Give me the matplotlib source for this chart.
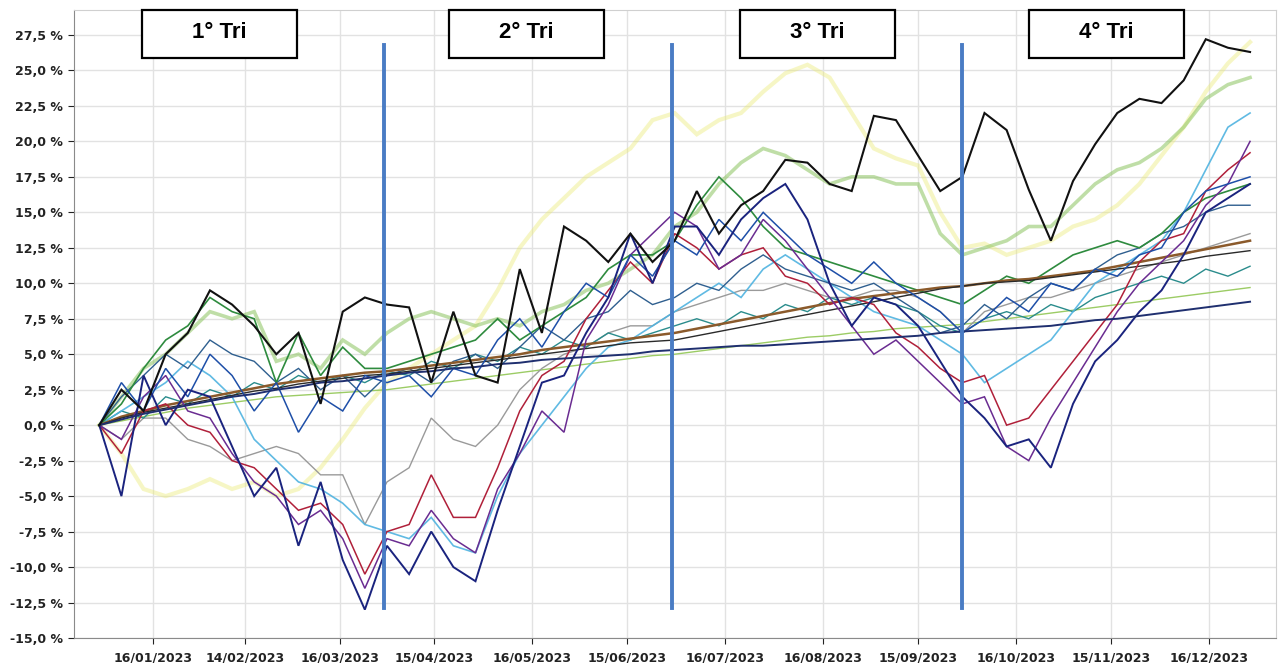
import matplotlib
matplotlib.use("Agg")
from matplotlib import pyplot as plt
from matplotlib.patches import Rectangle
import matplotlib.dates as mdates
import pandas as pd

# weekly closes, performance in % since 30/12/2022
dates = pd.date_range("2022-12-30", periods=53, freq="7D")

black = [0, 2.5, 1.0, 5.0, 6.5, 9.5, 8.5, 7.0, 5.0, 6.5, 1.5, 8.0, 9.0, 8.5,
         8.3, 3.0, 8.0, 3.5, 3.0, 11.0, 6.5, 14.0, 13.0, 11.5, 13.5, 11.5, 13.0,
         16.5, 13.5, 15.5, 16.5, 18.7, 18.5, 17.0, 16.5, 21.8, 21.5, 19.0, 16.5,
         17.5, 22.0, 20.8, 16.6, 13.0, 17.2, 19.8, 22.0, 23.0, 22.7, 24.3, 27.2, 26.6, 26.3]
yellow = [0, -2.0, -4.5, -5.0, -4.5, -3.8, -4.5, -4.0, -5.0, -4.5, -3.0, -1.0, 1.2, 3.0,
          4.0, 5.0, 6.0, 7.0, 9.5, 12.5, 14.5, 16.0, 17.5, 18.5, 19.5, 21.5, 22.0,
          20.5, 21.5, 22.0, 23.5, 24.8, 25.4, 24.5, 22.0, 19.5, 18.8, 18.3, 15.0,
          12.5, 12.8, 12.0, 12.5, 13.0, 14.0, 14.5, 15.5, 17.0, 19.0, 21.0, 23.5, 25.5, 27.0]
lgreen = [0, 2.0, 4.0, 5.0, 6.5, 8.0, 7.5, 8.0, 4.5, 5.0, 4.0, 6.0, 5.0, 6.5,
          7.5, 8.0, 7.5, 7.0, 7.5, 7.0, 8.0, 8.5, 9.5, 10.0, 11.0, 12.0, 14.0,
          15.0, 17.0, 18.5, 19.5, 19.0, 18.0, 17.0, 17.5, 17.5, 17.0, 17.0, 13.5,
          12.0, 12.5, 13.0, 14.0, 14.0, 15.5, 17.0, 18.0, 18.5, 19.5, 21.0, 23.0, 24.0, 24.5]
green = [0, 1.5, 4.0, 6.0, 7.0, 9.0, 8.0, 7.5, 3.0, 6.5, 3.5, 5.5, 4.0, 4.0,
         4.5, 5.0, 5.5, 6.0, 7.5, 6.0, 7.0, 8.0, 9.0, 11.0, 12.0, 12.0, 13.0,
         15.5, 17.5, 16.0, 14.0, 12.5, 12.0, 11.5, 11.0, 10.5, 10.0, 9.5, 9.0,
         8.5, 9.5, 10.5, 10.0, 11.0, 12.0, 12.5, 13.0, 12.5, 13.5, 15.0, 16.0, 16.5, 17.0]
navy = [0, -5.0, 3.5, 0.0, 2.5, 2.0, -1.5, -5.0, -3.0, -8.5, -4.0, -9.5, -13.0, -8.5,
        -10.5, -7.5, -10.0, -11.0, -6.0, -1.5, 3.0, 3.5, 6.5, 9.0, 13.5, 10.0, 14.0,
        14.0, 12.0, 14.5, 16.0, 17.0, 14.5, 10.0, 7.0, 9.0, 8.5, 7.0, 4.5,
        2.0, 0.5, -1.5, -1.0, -3.0, 1.5, 4.5, 6.0, 8.0, 9.5, 12.0, 15.0, 16.0, 17.0]
red = [0, -2.0, 1.0, 1.5, 0.0, -0.5, -2.5, -3.0, -4.5, -6.0, -5.5, -7.0, -10.5, -7.5,
       -7.0, -3.5, -6.5, -6.5, -3.0, 1.0, 3.5, 4.5, 7.5, 9.5, 11.5, 10.0, 13.5,
       12.5, 11.0, 12.0, 12.5, 10.5, 10.0, 8.5, 9.0, 8.5, 6.5, 5.5, 4.0,
       3.0, 3.5, 0.0, 0.5, 2.5, 4.5, 6.5, 8.5, 11.5, 13.0, 13.5, 16.5, 18.0, 19.2]
purple = [0, -1.0, 2.0, 3.5, 1.0, 0.5, -2.0, -4.0, -5.0, -7.0, -6.0, -8.0, -11.5, -8.0,
          -8.5, -6.0, -8.0, -9.0, -4.5, -2.0, 1.0, -0.5, 6.0, 8.5, 12.0, 13.5, 15.0,
          14.0, 11.0, 12.0, 14.5, 13.0, 11.0, 9.0, 7.0, 5.0, 6.0, 4.5, 3.0,
          1.5, 2.0, -1.5, -2.5, 0.5, 3.0, 5.5, 8.0, 10.0, 11.5, 13.0, 15.5, 17.0, 20.0]
cyan = [0, 1.0, 2.0, 3.0, 4.5, 3.5, 2.0, -1.0, -2.5, -4.0, -4.5, -5.5, -7.0, -7.5,
        -8.0, -6.5, -8.5, -9.0, -5.0, -2.0, 0.0, 2.0, 4.0, 5.5, 6.0, 7.0, 8.0,
        9.0, 10.0, 9.0, 11.0, 12.0, 11.0, 10.0, 9.0, 8.0, 7.5, 7.0, 6.0,
        5.0, 3.0, 4.0, 5.0, 6.0, 8.0, 10.0, 11.0, 12.0, 13.0, 15.0, 18.0, 21.0, 22.0]
gray = [0, -1.0, 0.5, 0.5, -1.0, -1.5, -2.5, -2.0, -1.5, -2.0, -3.5, -3.5, -7.0, -4.0,
        -3.0, 0.5, -1.0, -1.5, 0.0, 2.5, 4.0, 5.0, 5.5, 6.5, 7.0, 7.0, 8.0,
        8.5, 9.0, 9.5, 9.5, 10.0, 9.5, 9.0, 9.0, 9.5, 9.5, 9.0, 8.0,
        6.5, 8.0, 8.5, 9.0, 9.0, 9.5, 10.0, 10.5, 11.0, 11.5, 12.0, 12.5, 13.0, 13.5]
dblue = [0, 3.0, 1.0, 4.0, 2.0, 5.0, 3.5, 1.0, 3.0, -0.5, 2.0, 1.0, 3.5, 3.0,
         3.5, 2.0, 4.0, 3.5, 6.0, 7.5, 5.5, 8.0, 10.0, 9.0, 12.0, 10.5, 13.0,
         12.0, 14.5, 13.0, 15.0, 13.5, 12.0, 11.0, 10.0, 11.5, 10.0, 9.0, 8.0,
         6.5, 7.5, 9.0, 8.0, 10.0, 9.5, 11.0, 10.5, 12.0, 12.5, 15.0, 16.5, 17.0, 17.5]
steel = [0, 2.0, 3.5, 5.0, 4.0, 6.0, 5.0, 4.5, 3.0, 4.0, 2.5, 3.5, 2.0, 3.5,
         4.0, 3.0, 4.5, 5.0, 4.0, 5.5, 7.0, 6.0, 7.5, 8.0, 9.5, 8.5, 9.0,
         10.0, 9.5, 11.0, 12.0, 11.0, 10.5, 10.0, 9.5, 10.0, 9.0, 8.0, 6.5,
         7.0, 8.5, 7.5, 9.0, 10.0, 9.5, 11.0, 12.0, 12.5, 13.5, 14.0, 15.0, 15.5, 15.5]
teal = [0, 1.0, 0.5, 2.0, 1.5, 2.5, 2.0, 3.0, 2.5, 3.5, 3.0, 3.5, 3.0, 3.8,
        3.5, 4.5, 4.0, 5.0, 4.5, 5.5, 5.0, 6.0, 5.5, 6.5, 6.0, 6.5, 7.0,
        7.5, 7.0, 8.0, 7.5, 8.5, 8.0, 9.0, 8.5, 9.0, 8.5, 8.0, 7.0,
        6.5, 7.5, 8.0, 7.5, 8.5, 8.0, 9.0, 9.5, 10.0, 10.5, 10.0, 11.0, 10.5, 11.2]
bond_navy = [0, 0.4, 0.8, 1.1, 1.4, 1.7, 2.0, 2.2, 2.5, 2.7, 3.0, 3.1, 3.3, 3.5,
             3.7, 3.8, 4.0, 4.1, 4.3, 4.4, 4.6, 4.7, 4.8, 4.9, 5.0, 5.2, 5.3,
             5.4, 5.5, 5.6, 5.6, 5.7, 5.8, 5.9, 6.0, 6.1, 6.2, 6.3, 6.5,
             6.6, 6.7, 6.8, 6.9, 7.0, 7.2, 7.4, 7.5, 7.7, 7.9, 8.1, 8.3, 8.5, 8.7]
bond_dark = [0, 0.5, 0.9, 1.2, 1.5, 1.8, 2.1, 2.4, 2.6, 2.9, 3.1, 3.3, 3.5, 3.6,
             3.8, 4.0, 4.2, 4.4, 4.6, 4.8, 5.0, 5.2, 5.4, 5.6, 5.8, 5.9, 6.0,
             6.3, 6.6, 6.9, 7.2, 7.5, 7.8, 8.1, 8.4, 8.7, 9.0, 9.3, 9.6,
             9.8, 10.0, 10.1, 10.2, 10.4, 10.6, 10.8, 11.0, 11.2, 11.4, 11.6, 11.9, 12.1, 12.3]
bond_brown = [0, 0.6, 1.0, 1.4, 1.7, 2.0, 2.3, 2.6, 2.9, 3.1, 3.3, 3.5, 3.7, 3.8,
              4.0, 4.2, 4.4, 4.6, 4.8, 5.0, 5.3, 5.5, 5.7, 5.9, 6.1, 6.3, 6.5,
              6.8, 7.1, 7.4, 7.7, 8.0, 8.3, 8.6, 8.9, 9.1, 9.3, 9.5, 9.7,
              9.8, 10.0, 10.2, 10.3, 10.5, 10.7, 10.9, 11.2, 11.5, 11.8, 12.1, 12.4, 12.7, 13.0]
bond_green = [0, 0.3, 0.6, 0.9, 1.2, 1.4, 1.6, 1.8, 2.0, 2.1, 2.2, 2.3, 2.4, 2.5,
              2.7, 2.9, 3.1, 3.3, 3.5, 3.7, 3.9, 4.1, 4.3, 4.5, 4.7, 4.9, 5.0,
              5.2, 5.4, 5.6, 5.8, 6.0, 6.2, 6.3, 6.5, 6.6, 6.8, 6.9, 7.0,
              7.1, 7.3, 7.5, 7.7, 7.9, 8.1, 8.3, 8.5, 8.7, 8.9, 9.1, 9.3, 9.5, 9.7]

tick_dates = ["2023-01-16", "2023-02-14", "2023-03-16", "2023-04-15", "2023-05-16", "2023-06-15",
              "2023-07-16", "2023-08-16", "2023-09-15", "2023-10-16", "2023-11-15", "2023-12-16"]
y_ticks = [-15.0, -12.5, -10.0, -7.5, -5.0, -2.5, 0.0, 2.5, 5.0, 7.5, 10.0, 12.5,
           15.0, 17.5, 20.0, 22.5, 25.0, 27.5]

quarter_labels = ["1° Tri", "2° Tri", "3° Tri", "4° Tri"]
quarter_ends = ["2023-03-30", "2023-06-29", "2023-09-29"]

# (series, colour, width, alpha) in drawing order
series = [
    (yellow, "#eaea70", 3.0, 0.4),
    (lgreen, "#8cc460", 2.6, 0.55),
    (bond_green, "#9ccc65", 1.0, 1.0),
    (gray, "#9a9a9a", 1.0, 1.0),
    (teal, "#2a8c8c", 1.0, 1.0),
    (cyan, "#4fb3e0", 1.2, 0.9),
    (steel, "#2f5f8f", 1.0, 1.0),
    (green, "#2e8b3e", 1.2, 1.0),
    (bond_brown, "#8b5a2b", 1.8, 1.0),
    (bond_dark, "#2a2a2a", 1.0, 1.0),
    (red, "#b0203a", 1.1, 1.0),
    (purple, "#6a2c91", 1.1, 1.0),
    (dblue, "#1e4fa8", 1.1, 1.0),
    (navy, "#1a237e", 1.4, 1.0),
    (bond_navy, "#1f2f6f", 1.4, 1.0),
    (black, "#111111", 1.5, 1.0),
]

W, H = 1282, 663
fig = plt.figure(figsize=(W / 100, H / 100), dpi=100)
ax = fig.add_axes([74 / W, 1 - 638 / H, (1276 - 74) / W, (638 - 10) / H])

for vals, col, lw, a in series:
    ax.plot(dates, vals, color=col, linewidth=lw, alpha=a, solid_joinstyle="miter")

for d in quarter_ends:
    ax.plot([pd.Timestamp(d)] * 2, [-12.9, 26.8], color="#4a7cc4", linewidth=2.8, zorder=5)

ax.set_xlim(pd.Timestamp("2022-12-22"), pd.Timestamp("2024-01-06 05:00"))
ax.set_ylim(-15, 29.26)
ax.set_xticks(pd.to_datetime(tick_dates))
ax.xaxis.set_major_formatter(mdates.DateFormatter("%d/%m/%Y"))
ax.set_yticks(y_ticks)
ax.set_yticklabels([("%.1f %%" % v).replace(".", ",") for v in y_ticks])
ax.tick_params(labelsize=9, colors="#222222", length=4, width=0.8, pad=4)
for lab in ax.get_xticklabels() + ax.get_yticklabels():
    lab.set_fontweight("bold")
ax.tick_params(axis="x", pad=6)

ax.grid(True, color="#e2e2e2", linewidth=1.0)
ax.set_axisbelow(True)
for s in ["left", "bottom"]:
    ax.spines[s].set_color("#8a8a8a")
for s in ["top", "right"]:
    ax.spines[s].set_color("#d0d0d0")

# quarter boxes, pixel positions
box_x = [142, 449, 740, 1029]
for x0, lab in zip(box_x, quarter_labels):
    fig.patches.append(Rectangle((x0 / W, 1 - 58 / H), 155 / W, 48 / H, transform=fig.transFigure,
                                 facecolor="white", edgecolor="black", linewidth=1.6, zorder=10))
    fig.text((x0 + 77.5) / W, 1 - 33 / H, lab, ha="center", va="center", fontsize=16,
             fontweight="bold", family="Liberation Sans", zorder=11)

fig.savefig("out.png", dpi=100)
